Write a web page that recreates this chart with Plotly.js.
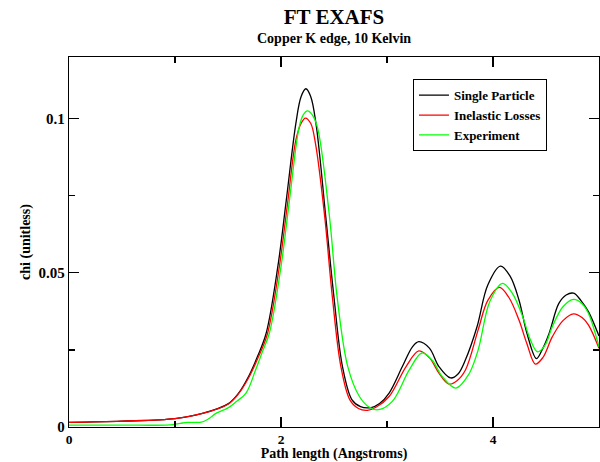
<!DOCTYPE html>
<html>
<head>
<meta charset="utf-8">
<script src="https://cdn.plot.ly/plotly-3.0.1.min.js"></script>
<style>
  html, body { margin: 0; padding: 0; background: #ffffff; }
  #plot { width: 600px; height: 462px; }
</style>
</head>
<body>
<div id="plot"></div>
<script>
var seriesNames = ['Single Particle', 'Inelastic Losses', 'Experiment'];
var seriesColors = ['#000000', '#ff0000', '#00ff00'];

// path length (Angstroms) / chi values
var singleX = [0, 0.5, 1.0, 1.25, 1.5, 1.6, 1.7, 1.78, 1.86, 1.97, 2.05, 2.14, 2.19, 2.235, 2.28, 2.33, 2.42, 2.5, 2.58, 2.67, 2.75, 2.85, 2.93, 3.02, 3.145, 3.24, 3.3, 3.4, 3.49, 3.6, 3.67, 3.74, 3.85, 3.95, 4.07, 4.16, 4.245, 4.32, 4.41, 4.47, 4.53, 4.62, 4.69, 4.76, 4.83, 4.9, 5.0];
var singleY = [0.0015, 0.0019, 0.0027, 0.0043, 0.0075, 0.011, 0.0168, 0.023, 0.0304, 0.052, 0.0736, 0.0984, 0.1072, 0.1097, 0.1072, 0.0984, 0.069, 0.042, 0.0196, 0.0088, 0.0066, 0.0063, 0.0076, 0.011, 0.0196, 0.026, 0.0277, 0.0256, 0.0196, 0.0159, 0.0172, 0.0218, 0.0326, 0.046, 0.0522, 0.049, 0.0412, 0.0304, 0.0222, 0.0255, 0.0304, 0.040, 0.0428, 0.0434, 0.041, 0.0374, 0.0295];

var inelasticX = [0, 0.5, 1.0, 1.25, 1.5, 1.6, 1.7, 1.78, 1.87, 1.98, 2.06, 2.14, 2.19, 2.23, 2.28, 2.325, 2.41, 2.485, 2.565, 2.65, 2.73, 2.815, 2.9, 3.02, 3.18, 3.3, 3.4, 3.49, 3.585, 3.66, 3.74, 3.86, 3.95, 4.06, 4.15, 4.245, 4.32, 4.4, 4.47, 4.56, 4.66, 4.76, 4.84, 4.9, 5.0];
var inelasticY = [0.0015, 0.0019, 0.0027, 0.0043, 0.0074, 0.0108, 0.0163, 0.0222, 0.030, 0.051, 0.072, 0.093, 0.0985, 0.1002, 0.0985, 0.092, 0.069, 0.042, 0.0196, 0.0088, 0.006, 0.0054, 0.0065, 0.0099, 0.0196, 0.0247, 0.0225, 0.0175, 0.0139, 0.015, 0.0185, 0.0315, 0.041, 0.0453, 0.042, 0.0347, 0.027, 0.0204, 0.0225, 0.0293, 0.0345, 0.0367, 0.0355, 0.0331, 0.0255];

var experimentX = [0, 0.5, 0.95, 1.05, 1.12, 1.25, 1.31, 1.39, 1.5, 1.58, 1.67, 1.76, 1.82, 1.89, 2.0, 2.08, 2.17, 2.21, 2.25, 2.295, 2.345, 2.455, 2.53, 2.63, 2.74, 2.83, 2.92, 3.05, 3.21, 3.33, 3.43, 3.52, 3.65, 3.77, 3.86, 3.97, 4.09, 4.18, 4.28, 4.35, 4.42, 4.49, 4.56, 4.66, 4.76, 4.84, 4.9, 5.0];
var experimentY = [0.0006, 0.0006, 0.0007, 0.0012, 0.0015, 0.0016, 0.0025, 0.0045, 0.0062, 0.0083, 0.011, 0.0185, 0.024, 0.0304, 0.052, 0.0736, 0.097, 0.1012, 0.1025, 0.1012, 0.097, 0.069, 0.042, 0.0196, 0.0099, 0.0065, 0.0056, 0.0083, 0.0185, 0.024, 0.0215, 0.0164, 0.0126, 0.017, 0.025, 0.0407, 0.0466, 0.0435, 0.0358, 0.0285, 0.0244, 0.0265, 0.0326, 0.039, 0.0414, 0.040, 0.0369, 0.026];

var xTicks = [0, 2, 4];
var yTicks = [0, 0.05, 0.1];

var serif = 'Liberation Serif, Times New Roman, serif';

function build_trace(i, xs, ys) {
  return {
    x: xs,
    y: ys,
    name: seriesNames[i],
    mode: 'lines',
    type: 'scatter',
    line: {
      color: seriesColors[i],
      width: 1.3,
      shape: 'spline',
      smoothing: 1
    },
    hoverinfo: 'skip'
  };
}

var traces = [
  build_trace(0, singleX, singleY),
  build_trace(1, inelasticX, inelasticY),
  build_trace(2, experimentX, experimentY)
];

var axisCommon = {
  showgrid: false,
  zeroline: false,
  showline: true,
  linecolor: '#000000',
  linewidth: 1.2,
  mirror: 'allticks',
  ticks: 'inside',
  ticklen: 10,
  tickwidth: 1.2,
  tickcolor: '#000000'
};

var layout = {
  width: 600,
  height: 462,
  margin: {
    l: 69,
    r: 1,
    t: 57,
    b: 35,
    pad: 0
  },
  paper_bgcolor: '#ffffff',
  plot_bgcolor: '#ffffff',
  font: {
    family: serif,
    color: '#000000'
  },
  title: {
    text: 'FT EXAFS',
    font: {
      family: serif,
      size: 21,
      weight: 'bold',
      color: '#000000'
    },
    xref: 'paper',
    x: 0.5,
    xanchor: 'center',
    yref: 'container',
    y: 1 - 17 / 462,
    yanchor: 'middle'
  },
  annotations: [{
    text: 'Copper K edge, 10 Kelvin',
    xref: 'paper',
    yref: 'paper',
    x: 0.5,
    y: (427 - 38) / 370,
    xanchor: 'center',
    yanchor: 'middle',
    showarrow: false,
    font: {
      family: serif,
      size: 14,
      weight: 'bold',
      color: '#000000'
    }
  }],
  showlegend: true,
  legend: {
    x: 0.649,
    y: 0.94,
    xanchor: 'left',
    yanchor: 'top',
    bgcolor: '#ffffff',
    bordercolor: '#000000',
    borderwidth: 1,
    font: {
      family: serif,
      size: 13,
      weight: 'bold',
      color: '#000000'
    }
  },
  xaxis: Object.assign({}, axisCommon, {
    range: [0, 5],
    tickvals: xTicks,
    ticktext: xTicks.map(String),
    tickfont: {
      family: serif,
      size: 13.5,
      weight: 'bold',
      color: '#000000'
    },
    minor: {
      dtick: 1,
      tick0: 0,
      ticks: 'inside',
      ticklen: 6,
      tickwidth: 1.2,
      tickcolor: '#000000'
    },
    title: {
      text: 'Path length (Angstroms)',
      standoff: 0,
      font: {
        family: serif,
        size: 14,
        weight: 'bold',
        color: '#000000'
      }
    }
  }),
  yaxis: Object.assign({}, axisCommon, {
    range: [0, 0.12],
    tickvals: yTicks,
    ticktext: ['0', '0.05', '0.1'],
    tickfont: {
      family: serif,
      size: 15,
      weight: 'bold',
      color: '#000000'
    },
    minor: {
      dtick: 0.025,
      tick0: 0,
      ticks: 'inside',
      ticklen: 6,
      tickwidth: 1.2,
      tickcolor: '#000000'
    },
    title: {
      text: 'chi (unitless)',
      standoff: 4,
      font: {
        family: serif,
        size: 14,
        weight: 'bold',
        color: '#000000'
      }
    }
  })
};

var config = {
  responsive: false,
  displayModeBar: false,
  staticPlot: true
};

Plotly.newPlot('plot', traces, layout, config);
</script>
</body>
</html>
